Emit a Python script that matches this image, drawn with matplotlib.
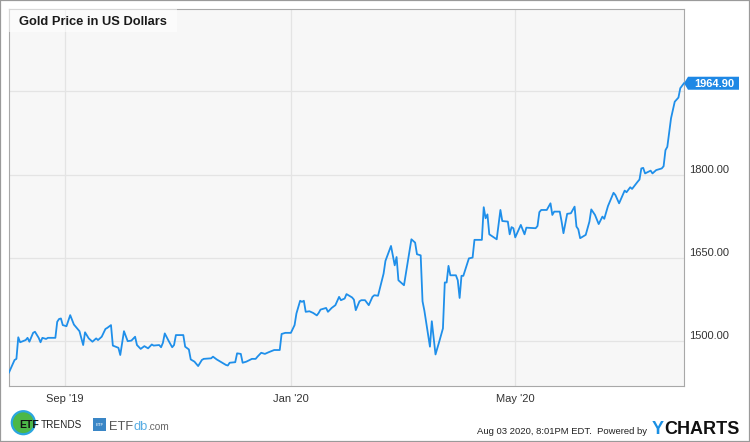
import matplotlib
matplotlib.use('Agg')
import matplotlib.pyplot as plt
import matplotlib.dates as mdates
import matplotlib.transforms as mtransforms
from matplotlib.patches import Rectangle, Polygon, Circle
import pandas as pd

# ---------------- data ----------------
dates = [
    '2019-08-02', '2019-08-05', '2019-08-06', '2019-08-07', '2019-08-08', '2019-08-11', '2019-08-12',
    '2019-08-13', '2019-08-15', '2019-08-16', '2019-08-18', '2019-08-19', '2019-08-20', '2019-08-22',
    '2019-08-23', '2019-08-27', '2019-08-28', '2019-08-29', '2019-08-30', '2019-08-31',
    '2019-09-02', '2019-09-04', '2019-09-06', '2019-09-09', '2019-09-11', '2019-09-12', '2019-09-14',
    '2019-09-16', '2019-09-18', '2019-09-19', '2019-09-21', '2019-09-23', '2019-09-24', '2019-09-26',
    '2019-09-27', '2019-09-30',
    '2019-10-01', '2019-10-03', '2019-10-05', '2019-10-07', '2019-10-09', '2019-10-10', '2019-10-12',
    '2019-10-14', '2019-10-16', '2019-10-18', '2019-10-19', '2019-10-22', '2019-10-23', '2019-10-24',
    '2019-10-25', '2019-10-27', '2019-10-29', '2019-10-30', '2019-10-31',
    '2019-11-04', '2019-11-05', '2019-11-07', '2019-11-08', '2019-11-10', '2019-11-12', '2019-11-14',
    '2019-11-15', '2019-11-19', '2019-11-20', '2019-11-22', '2019-11-24', '2019-11-27', '2019-11-28',
    '2019-11-29',
    '2019-12-02', '2019-12-03', '2019-12-05', '2019-12-06', '2019-12-08', '2019-12-11', '2019-12-13',
    '2019-12-14', '2019-12-16', '2019-12-18', '2019-12-20', '2019-12-23', '2019-12-26', '2019-12-27',
    '2019-12-29',
    '2020-01-01', '2020-01-03', '2020-01-04', '2020-01-06', '2020-01-07', '2020-01-08', '2020-01-09',
    '2020-01-11', '2020-01-13', '2020-01-15', '2020-01-16', '2020-01-17', '2020-01-20', '2020-01-21',
    '2020-01-23', '2020-01-25', '2020-01-27', '2020-01-28', '2020-01-30', '2020-01-31',
    '2020-02-03', '2020-02-04', '2020-02-05', '2020-02-07', '2020-02-08', '2020-02-10', '2020-02-12',
    '2020-02-14', '2020-02-15', '2020-02-17', '2020-02-20', '2020-02-21', '2020-02-24', '2020-02-26',
    '2020-02-27', '2020-02-28',
    '2020-03-02', '2020-03-04', '2020-03-06', '2020-03-08', '2020-03-09', '2020-03-11', '2020-03-12',
    '2020-03-13', '2020-03-16', '2020-03-17', '2020-03-19', '2020-03-21', '2020-03-23', '2020-03-24',
    '2020-03-25', '2020-03-26', '2020-03-27', '2020-03-30', '2020-03-31',
    '2020-04-01', '2020-04-02', '2020-04-03', '2020-04-06', '2020-04-08', '2020-04-09', '2020-04-13',
    '2020-04-14', '2020-04-15', '2020-04-16', '2020-04-17', '2020-04-21', '2020-04-23', '2020-04-24',
    '2020-04-27', '2020-04-28', '2020-04-29', '2020-04-30',
    '2020-05-01', '2020-05-04', '2020-05-06', '2020-05-07', '2020-05-12', '2020-05-13', '2020-05-14',
    '2020-05-15', '2020-05-18', '2020-05-20', '2020-05-21', '2020-05-22', '2020-05-25', '2020-05-26',
    '2020-05-27', '2020-05-29', '2020-05-31',
    '2020-06-02', '2020-06-03', '2020-06-04', '2020-06-05', '2020-06-08', '2020-06-10', '2020-06-11',
    '2020-06-13', '2020-06-15', '2020-06-17', '2020-06-18', '2020-06-20', '2020-06-23', '2020-06-24',
    '2020-06-26', '2020-06-29', '2020-06-30',
    '2020-07-02', '2020-07-03', '2020-07-06', '2020-07-07', '2020-07-08', '2020-07-09', '2020-07-10',
    '2020-07-13', '2020-07-14', '2020-07-16', '2020-07-19', '2020-07-20', '2020-07-21', '2020-07-22',
    '2020-07-24', '2020-07-26', '2020-07-28', '2020-07-29', '2020-07-31',
]
prices = [
    1442.5, 1465, 1467, 1506, 1497, 1501, 1505,
    1498, 1514, 1516, 1505, 1497, 1505, 1503,
    1505, 1505, 1534, 1539, 1540, 1528,
    1526, 1546, 1529, 1517, 1492, 1515, 1504,
    1498, 1504, 1501, 1507, 1521, 1523, 1528,
    1491, 1487,
    1474, 1517, 1499, 1500, 1507, 1492, 1485,
    1490, 1486, 1493, 1491, 1492, 1488, 1496,
    1513, 1500, 1488, 1492, 1510,
    1510, 1489, 1484, 1466, 1462, 1454, 1465,
    1467, 1468, 1471, 1466, 1462, 1456, 1455,
    1460,
    1461, 1477, 1476, 1460, 1462, 1467, 1467,
    1471, 1478, 1476, 1479, 1483, 1483, 1512,
    1514,
    1514, 1528, 1549, 1572, 1570, 1572, 1552,
    1553, 1550, 1545.5, 1550, 1556, 1559, 1552,
    1559, 1564, 1579, 1573, 1576, 1584,
    1578, 1574, 1555, 1571, 1573, 1573, 1564,
    1579, 1582, 1581, 1621, 1644, 1671, 1636,
    1651, 1609,
    1600, 1642, 1683, 1677, 1656, 1654, 1571,
    1554, 1489, 1535, 1475, 1498, 1522, 1605,
    1605, 1635, 1618, 1618, 1609,
    1577, 1617, 1617, 1648.5, 1650, 1682, 1682,
    1741, 1721, 1728, 1692, 1683, 1736, 1716,
    1715, 1692, 1705, 1703,
    1686.5, 1709, 1692, 1704, 1703, 1707, 1732,
    1736, 1736, 1748, 1727, 1733, 1733, 1715,
    1694, 1729, 1730,
    1742, 1706, 1701, 1685, 1691, 1715, 1737,
    1727, 1710.5, 1724, 1720, 1743, 1767, 1763,
    1748, 1771, 1768,
    1777, 1774, 1787, 1791, 1811, 1812, 1802,
    1807, 1802, 1808, 1811, 1815, 1844, 1850,
    1901.5, 1931.5, 1939, 1956, 1964.9,
]
y_ticks = [1500, 1650, 1800, 1950]
y_tick_labels = ['1500.00', '1650.00', '1800.00', '']
x_ticks = ['2019-09-01', '2020-01-01', '2020-05-01']
x_tick_labels = ["Sep '19", "Jan '20", "May '20"]
title = 'Gold Price in US Dollars'
last_label = '1964.90'
timestamp = 'Aug 03 2020, 8:01PM EDT.  Powered by'

# ---------------- style ----------------
plt.rcParams['font.family'] = ['Liberation Sans', 'DejaVu Sans']
LINE = '#1f8fea'
TXT = '#333333'

W, H = 750, 442
fig = plt.figure(figsize=(W / 100, H / 100), dpi=100)
fig.patch.set_facecolor('white')


def fx(x):
    return x / W


def fy(y):
    return 1 - y / H


ax = fig.add_axes([fx(9), fy(386), fx(684) - fx(9), fy(9) - fy(386)])
ax.set_facecolor('#f7f7f7')

d = pd.to_datetime(dates)
ax.plot(d, prices, color=LINE, lw=1.3, zorder=4)

ax.set_xlim(d[0], d[-1])
ax.set_ylim(1418, 2099)

ax.set_yticks(y_ticks)
ax.set_xticks(pd.to_datetime(x_ticks))
ax.set_xticklabels(x_tick_labels)
ax.grid(True, color='#e4e4e4', lw=0.9)
ax.set_axisbelow(True)
ax.tick_params(axis='x', length=0, pad=6, labelsize=8, labelcolor=TXT)
ax.tick_params(axis='y', length=0, labelleft=False, labelright=False)
for s in ax.spines.values():
    s.set_color('#a8a8a8')
    s.set_linewidth(0.8)

# right-side y labels sitting just above gridlines
ytr = mtransforms.blended_transform_factory(ax.transAxes, ax.transData) + \
    mtransforms.ScaledTranslation(5 / 100, 1.5 / 100, fig.dpi_scale_trans)
for v, lab in zip(y_ticks, y_tick_labels):
    ax.text(1, v, lab, transform=ytr, ha='left', va='baseline', fontsize=8,
            color=TXT, clip_on=False)

# title box
ax.add_patch(Rectangle((fx(9), fy(32)), fx(177) - fx(9), fy(9) - fy(32),
                       transform=fig.transFigure, fc='white', alpha=0.55,
                       ec='none', zorder=5))
fig.text(fx(19), fy(25), title, fontsize=9.3, fontweight='bold', color='#1a1a1a',
         ha='left', va='baseline')

# last-value price tag
xn = mdates.date2num(d[-1])
tag_tr = mtransforms.IdentityTransform() + \
    mtransforms.ScaledTranslation(xn, prices[-1], ax.transData)
tag = Polygon([(0, 0), (4, 6.5), (55, 6.5), (55, -6.5), (4, -6.5)], closed=True,
              transform=tag_tr, fc='#1e88e5', ec='none', clip_on=False, zorder=6)
ax.add_patch(tag)
ax.text(xn, prices[-1], last_label,
        transform=mtransforms.offset_copy(ax.transData, fig=fig, x=30, y=-0.5, units='dots'),
        ha='center', va='center', color='white', fontsize=8, fontweight='bold',
        zorder=7, clip_on=False)

# outer border
fig.add_artist(Rectangle((0, 0), 1, 1, transform=fig.transFigure, fill=False,
                         ec='#9a9a9a', lw=1.6))

# ETF TRENDS logo
fig.add_artist(Circle((23.3, H - 422.7), 11.5, transform=mtransforms.IdentityTransform(),
                      fc='#4cb848', ec='#2aa6df', lw=1.6))
fig.text(fx(19.5), fy(427.7), 'ETF', fontsize=7.5, fontweight='bold', color='#111',
         ha='left', va='baseline')
fig.text(fx(41), fy(427.7), 'TRENDS', fontsize=7.2, color='#222', ha='left', va='baseline')

# ETFdb.com logo
fig.add_artist(Rectangle((93, H - 431), 13, 13, transform=mtransforms.IdentityTransform(),
                         fc='#3a86c6', ec='none'))
fig.text(fx(99.5), fy(424.5), 'ETF', fontsize=3.2, color='white', ha='center', va='center')
fig.text(fx(109), fy(429.5), 'ETF', fontsize=9.3, color='#555555', ha='left', va='baseline')
fig.text(fx(133), fy(429.5), 'db', fontsize=9.3, color='#5aaee4', ha='left', va='baseline')
fig.text(fx(147.5), fy(429.5), '.com', fontsize=7.3, color='#666666', ha='left', va='baseline')

# footer right
fig.text(fx(647), fy(434), timestamp, fontsize=6.8, color='#222', ha='right', va='baseline')
fig.text(fx(651.5), fy(434), 'Y', fontsize=13, fontweight='bold', color='#1a8fe3',
         ha='left', va='baseline')
fig.text(fx(664.5), fy(434), 'CHARTS', fontsize=13, fontweight='bold', color='#111',
         ha='left', va='baseline')

fig.savefig('out.png', dpi=100, facecolor='white')
